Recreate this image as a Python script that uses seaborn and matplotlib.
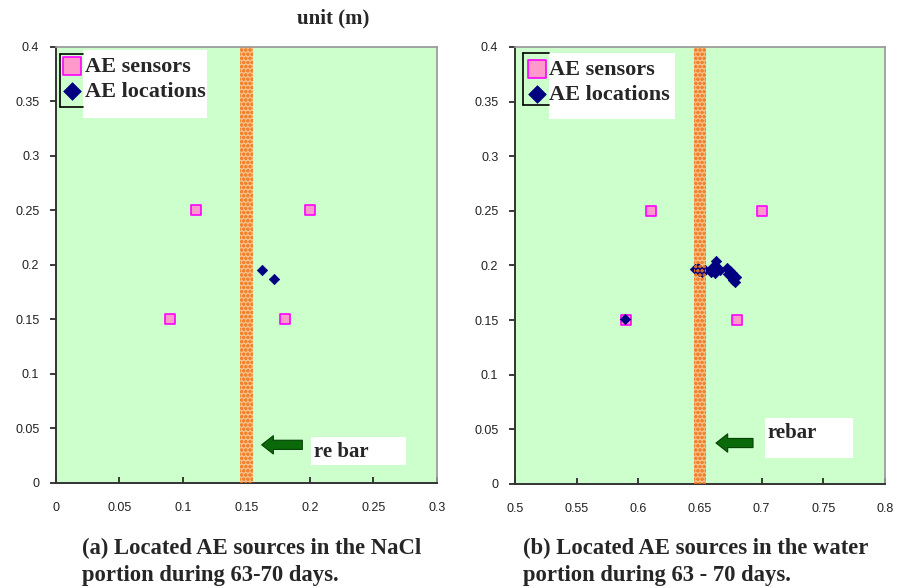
import matplotlib
matplotlib.use("Agg")
import matplotlib.pyplot as plt
import seaborn as sns
from matplotlib.patches import Rectangle
from matplotlib.lines import Line2D
from matplotlib.ticker import FuncFormatter, MultipleLocator

# --- data ---
# (a) NaCl portion
sens_a_x = [0.11, 0.20, 0.09, 0.18]
sens_a_y = [0.25, 0.25, 0.15, 0.15]
loc_a_x = [0.162, 0.172]
loc_a_y = [0.195, 0.187]
rebar_a = (0.145, 0.155)

# (b) water portion
sens_b_x = [0.61, 0.70, 0.59, 0.68]
sens_b_y = [0.25, 0.25, 0.15, 0.15]
loc_b_x = [0.589, 0.646, 0.648, 0.649, 0.652, 0.654,
           0.658, 0.659, 0.660, 0.661, 0.662, 0.662, 0.663, 0.664, 0.666,
           0.672, 0.673, 0.674, 0.675, 0.676, 0.677, 0.678, 0.679]
loc_b_y = [0.151, 0.197, 0.198, 0.195, 0.194, 0.196,
           0.196, 0.194, 0.198, 0.195, 0.200, 0.193, 0.204, 0.197, 0.196,
           0.198, 0.192, 0.195, 0.190, 0.193, 0.187, 0.185, 0.189]
rebar_b = (0.645, 0.655)

xlim_a = (0, 0.3)
xlim_b = (0.5, 0.8)
ylim = (0, 0.4)

caption_a = ["(a) Located AE sources in the NaCl", "portion during 63-70 days."]
caption_b = ["(b) Located AE sources in the water", "portion during 63 - 70 days."]

sns.set_theme(style="white")
plt.rcParams['font.family'] = ['Liberation Sans', 'DejaVu Sans']

fig = plt.figure(figsize=(8.97, 5.88), dpi=100)
ax_a = fig.add_axes([0.0624, 0.1786, 0.4247, 0.7415])
ax_b = fig.add_axes([0.5741, 0.1769, 0.4125, 0.7432])

serif = ['Liberation Serif', 'DejaVu Serif']
fmt = FuncFormatter(lambda v, _: f"{round(v, 2):g}")


def draw_panel(ax, sx, sy, lx, ly, rebar, xlim, leg_anchor, leg_box, bracket,
               arrow, note_box, note, note_y):
    ax.set_facecolor('#ccffcc')
    # rebar band under the points, dotted pattern over them
    ax.axvspan(rebar[0], rebar[1], facecolor='#f7c28a', edgecolor='none', zorder=1)
    sns.scatterplot(x=sx, y=sy, ax=ax, marker='s', s=55, color='#ff99cc',
                    edgecolor='#ff00ff', linewidth=1.2, label='AE sensors', zorder=2)
    sns.scatterplot(x=lx, y=ly, ax=ax, marker='D', s=28, color='#000080',
                    edgecolor='#000080', linewidth=0.5, label='AE locations', zorder=2)
    ax.axvspan(rebar[0], rebar[1], facecolor='none', edgecolor='#f07820',
               hatch='oooo', linewidth=0, zorder=3, alpha=0.85)

    ax.set_xlim(*xlim)
    ax.set_ylim(*ylim)
    ax.xaxis.set_major_locator(MultipleLocator(0.05))
    ax.yaxis.set_major_locator(MultipleLocator(0.05))
    ax.xaxis.set_major_formatter(fmt)
    ax.yaxis.set_major_formatter(fmt)
    ax.tick_params(axis='x', direction='in', length=4, pad=14, labelsize=9, colors='#222222')
    ax.tick_params(axis='y', direction='out', length=4, pad=8, labelsize=9, colors='#222222')
    ax.tick_params(left=True, bottom=True)
    for side in ['top', 'right']:
        ax.spines[side].set_color('#999999')
    for side in ['left', 'bottom']:
        ax.spines[side].set_color('#333333')
        ax.spines[side].set_linewidth(1.4)
    ax.set_xlabel('')
    ax.set_ylabel('')

    # legend: white text box with the old frame bracket peeking out
    ax.add_patch(Rectangle((leg_box[0], leg_box[1]), leg_box[2], leg_box[3],
                           transform=ax.transAxes, facecolor='white', edgecolor='none', zorder=4))
    bx, by0, by1, bx1 = bracket
    for xs, ys in [([bx, bx], [by0, by1]), ([bx, bx1], [by1, by1]), ([bx, bx1], [by0, by0])]:
        ax.add_line(Line2D(xs, ys, transform=ax.transAxes, color='black', lw=1.2, zorder=5))
    leg = ax.legend(loc='upper left', bbox_to_anchor=leg_anchor, frameon=False,
                    handletextpad=0.05, borderaxespad=0, borderpad=0, labelspacing=0.2,
                    handlelength=1.0, markerscale=1.7,
                    prop={'family': serif, 'size': 16, 'weight': 'bold'})
    leg.set_zorder(6)

    # rebar arrow + note
    tail, head, ay = arrow
    ax.annotate('', xy=(head, ay), xytext=(tail, ay), zorder=6,
                arrowprops=dict(arrowstyle='simple,head_length=0.7,head_width=1.1,tail_width=0.55',
                                facecolor='#0a6a0a', edgecolor='#064006', lw=0.8,
                                shrinkA=0, shrinkB=0))
    ax.add_patch(Rectangle((note_box[0], note_box[1]), note_box[2], note_box[3],
                           facecolor='white', edgecolor='none', zorder=5))
    ax.text(note_box[0] + 0.002, note_y, note, ha='left', va='center', fontsize=15,
            family=serif, fontweight='bold', zorder=6)


draw_panel(ax_a, sens_a_x, sens_a_y, loc_a_x, loc_a_y, rebar_a, xlim_a,
           leg_anchor=(0.014, 0.978),
           leg_box=(0.071, 0.837, 0.325, 0.156), bracket=(0.0105, 0.862, 0.984, 0.071),
           arrow=(0.194, 0.162, 0.035), note_box=(0.201, 0.0165, 0.075, 0.0255),
           note='re bar', note_y=0.028)
draw_panel(ax_b, sens_b_x, sens_b_y, loc_b_x, loc_b_y, rebar_b, xlim_b,
           leg_anchor=(0.030, 0.972),
           leg_box=(0.092, 0.835, 0.340, 0.151), bracket=(0.022, 0.867, 0.986, 0.092),
           arrow=(0.693, 0.663, 0.0375), note_box=(0.703, 0.024, 0.071, 0.036),
           note='rebar', note_y=0.047)

fig.text(0.371, 0.969, 'unit (m)', ha='center', va='center', fontsize=15,
         family=serif, fontweight='bold')
for x0, lines in [(0.0914, caption_a), (0.583, caption_b)]:
    fig.text(x0, 1 - 548 / 588, lines[0], ha='left', va='center', fontsize=16.3,
             family=serif, fontweight='bold')
    fig.text(x0, 1 - 576 / 588, lines[1], ha='left', va='center', fontsize=16.3,
             family=serif, fontweight='bold')

fig.savefig('out.png', dpi=100, facecolor='white')
